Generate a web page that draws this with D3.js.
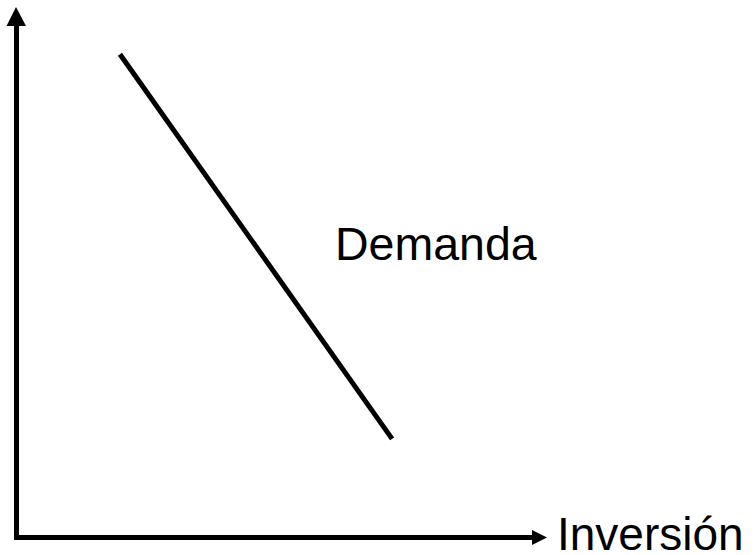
<!DOCTYPE html>
<html><head><meta charset="utf-8">
<script src="https://cdn.jsdelivr.net/npm/d3@7"></script>
<style>html,body{margin:0;padding:0;background:#fff;overflow:hidden}</style>
</head><body>
<svg id="c" width="755" height="555"></svg>
<script>
// Data
const demandX = [1.95, 7.08];
const demandY = [9.11, 1.86];
const curveLabel = "Demanda";
const xAxisLabel = "Inversión";

const svg = d3.select("#c");
const x = d3.scaleLinear().domain([0, 10]).range([16.5, 547]);
const y = d3.scaleLinear().domain([0, 10]).range([537.5, 7]);

// Axes
svg.append("line").attr("x1", 14).attr("x2", x(10) - 13).attr("y1", y(0)).attr("y2", y(0))
  .attr("stroke", "#000").attr("stroke-width", 5);
svg.append("line").attr("x1", x(0)).attr("x2", x(0)).attr("y1", y(0) + 2.5).attr("y2", y(10) + 17)
  .attr("stroke", "#000").attr("stroke-width", 5);
// arrowheads
svg.append("path").attr("d", `M${x(10)},${y(0)} L${x(10)-15},${y(0)-7.5} L${x(10)-15},${y(0)+7.5} Z`).attr("fill", "#000");
svg.append("path").attr("d", `M${x(0)-0.5},${y(10)} L${x(0)-10},${y(10)+19} L${x(0)+9.5},${y(10)+19} Z`).attr("fill", "#000");

// Demand line
const pts = demandX.map((d, i) => [d, demandY[i]]);
svg.append("path").datum(pts)
  .attr("d", d3.line().x(d => x(d[0])).y(d => y(d[1])))
  .attr("stroke", "#000").attr("stroke-width", 5).attr("fill", "none");

svg.append("text").attr("x", 335).attr("y", 260).text(curveLabel)
  .attr("font-family", "Liberation Sans, Arial, sans-serif").attr("font-size", 46.5).attr("fill", "#000");
svg.append("text").attr("x", 557).attr("y", 550).text(xAxisLabel)
  .attr("font-family", "Liberation Sans, Arial, sans-serif").attr("font-size", 46).attr("fill", "#000");
</script>
</body></html>
